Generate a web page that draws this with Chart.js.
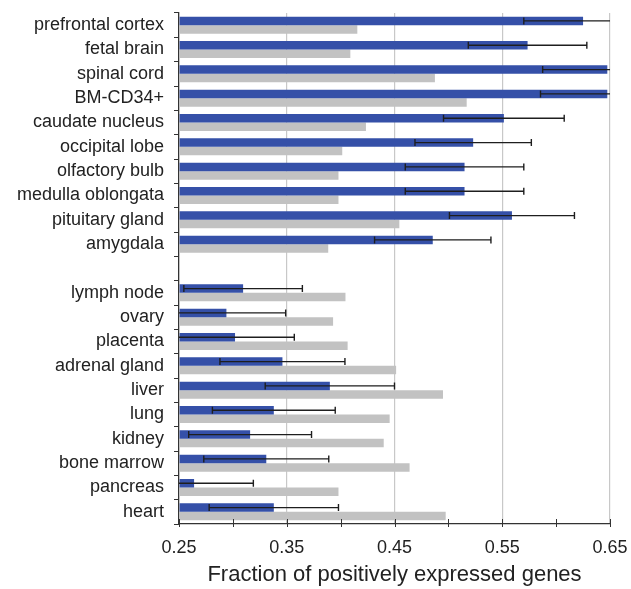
<!DOCTYPE html>
<html><head><meta charset="utf-8">
<script src="https://cdn.jsdelivr.net/npm/chart.js@4"></script>
<style>html,body{margin:0;padding:0;background:#fff}#wrap{width:631px;height:589px}</style>
</head><body><div id="wrap"><canvas id="c" width="631" height="589"></canvas></div>
<script>
const categories = ["prefrontal cortex","fetal brain","spinal cord","BM-CD34+","caudate nucleus","occipital lobe","olfactory bulb","medulla oblongata","pituitary gland","amygdala","","lymph node","ovary","placenta","adrenal gland","liver","lung","kidney","bone marrow","pancreas","heart"];
const blueValues = [0.625,0.5735,0.6475,0.6475,0.5515,0.523,0.515,0.515,0.559,0.4855,null,0.3095,0.294,0.302,0.346,0.390,0.338,0.316,0.331,0.264,0.338];
const blueErrors = [0.055,0.055,0.060,0.062,0.056,0.054,0.055,0.055,0.058,0.054,null,0.055,0.055,0.055,0.058,0.060,0.057,0.057,0.058,0.055,0.060];
const grayValues = [0.4155,0.409,0.4875,0.517,0.4235,0.4015,0.398,0.398,0.4545,0.3885,null,0.4045,0.393,0.4065,0.4515,0.495,0.4455,0.440,0.464,0.398,0.4975];
const xTicks = [0.25,0.35,0.45,0.55,0.65];

const AXIS = '#333333';
const FONT = 'Liberation Sans, Arial, sans-serif';
const isLabelled = v => xTicks.some(t => Math.abs(t - v) < 1e-6);

const errorBars = {
  id: 'errorBars',
  afterDatasetsDraw(chart) {
    const ctx = chart.ctx, xs = chart.scales.x, area = chart.chartArea;
    const meta = chart.getDatasetMeta(0);
    ctx.save();
    ctx.strokeStyle = '#1e1e1e';
    ctx.lineWidth = 1.4;
    meta.data.forEach((el, i) => {
      const v = blueValues[i], e = blueErrors[i];
      if (v == null) return;
      const lo = v - e, hi = v + e;
      const x1 = xs.getPixelForValue(Math.max(lo, xs.min));
      const x2 = xs.getPixelForValue(Math.min(hi, xs.max));
      const y = el.y;
      ctx.beginPath();
      ctx.moveTo(x1, y); ctx.lineTo(x2, y);
      if (lo >= xs.min) { ctx.moveTo(x1, y - 3.5); ctx.lineTo(x1, y + 3.5); }
      if (hi <= xs.max) { ctx.moveTo(x2, y - 3.5); ctx.lineTo(x2, y + 3.5); }
      ctx.stroke();
    });
    ctx.strokeStyle = AXIS; ctx.lineWidth = 1;
    for (let t = 0; t <= 8; t++) {
      const v = 0.25 + t * 0.05;
      const x = Math.round(xs.getPixelForValue(v)) + 0.5;
      ctx.beginPath(); ctx.moveTo(x, area.bottom - 5); ctx.lineTo(x, area.bottom + 3); ctx.stroke();
    }
    ctx.restore();
  }
};

new Chart(document.getElementById('c'), {
  type: 'bar',
  data: {
    labels: categories,
    datasets: [
      { data: blueValues, backgroundColor: '#3550a8', barPercentage: 1.0, categoryPercentage: 0.7, base: 0.25 },
      { data: grayValues, backgroundColor: '#c2c2c2', barPercentage: 1.0, categoryPercentage: 0.7, base: 0.25 }
    ]
  },
  options: {
    indexAxis: 'y',
    responsive: false,
    animation: false,
    layout: { padding: { top: 13, right: 21, left: 0, bottom: 0 } },
    plugins: { legend: { display: false }, tooltip: { enabled: false } },
    scales: {
      x: {
        type: 'linear', min: 0.25, max: 0.65,
        afterBuildTicks: s => { s.ticks = [0,1,2,3,4,5,6,7,8].map(i => ({ value: +(0.25 + i*0.05).toFixed(2) })); },
        afterFit: s => { s.height = 65; s.paddingRight = 0; s.paddingLeft = 0; },
        border: { display: true, color: AXIS, width: 1.3 },
        grid: {
          color: c => (c.tick && isLabelled(c.tick.value) && c.tick.value > 0.26) ? '#c8c8c8' : 'rgba(0,0,0,0)',
          lineWidth: 1.2,
          drawTicks: true,
          tickLength: 12,
          tickColor: 'rgba(0,0,0,0)'
        },
        ticks: {
          padding: 1,
          color: '#222',
          maxRotation: 0,
          font: { family: FONT, size: 18 },
          callback: v => isLabelled(v) ? v.toFixed(2) : ''
        },
        title: {
          display: true, text: 'Fraction of positively expressed genes',
          color: '#222', padding: { top: 4, bottom: 1 },
          font: { family: FONT, size: 22 }
        }
      },
      y: {
        type: 'category',
        afterFit: s => { s.width = 179; s.paddingTop = 0; s.paddingBottom = 0; },
        border: { display: true, color: AXIS, width: 1.3 },
        grid: { offset: true, drawOnChartArea: false, drawTicks: true, tickLength: 5, color: AXIS },
        ticks: {
          padding: 10,
          color: '#222',
          autoSkip: false,
          font: { family: FONT, size: 18 }
        }
      }
    }
  },
  plugins: [errorBars]
});
</script>
</body></html>
